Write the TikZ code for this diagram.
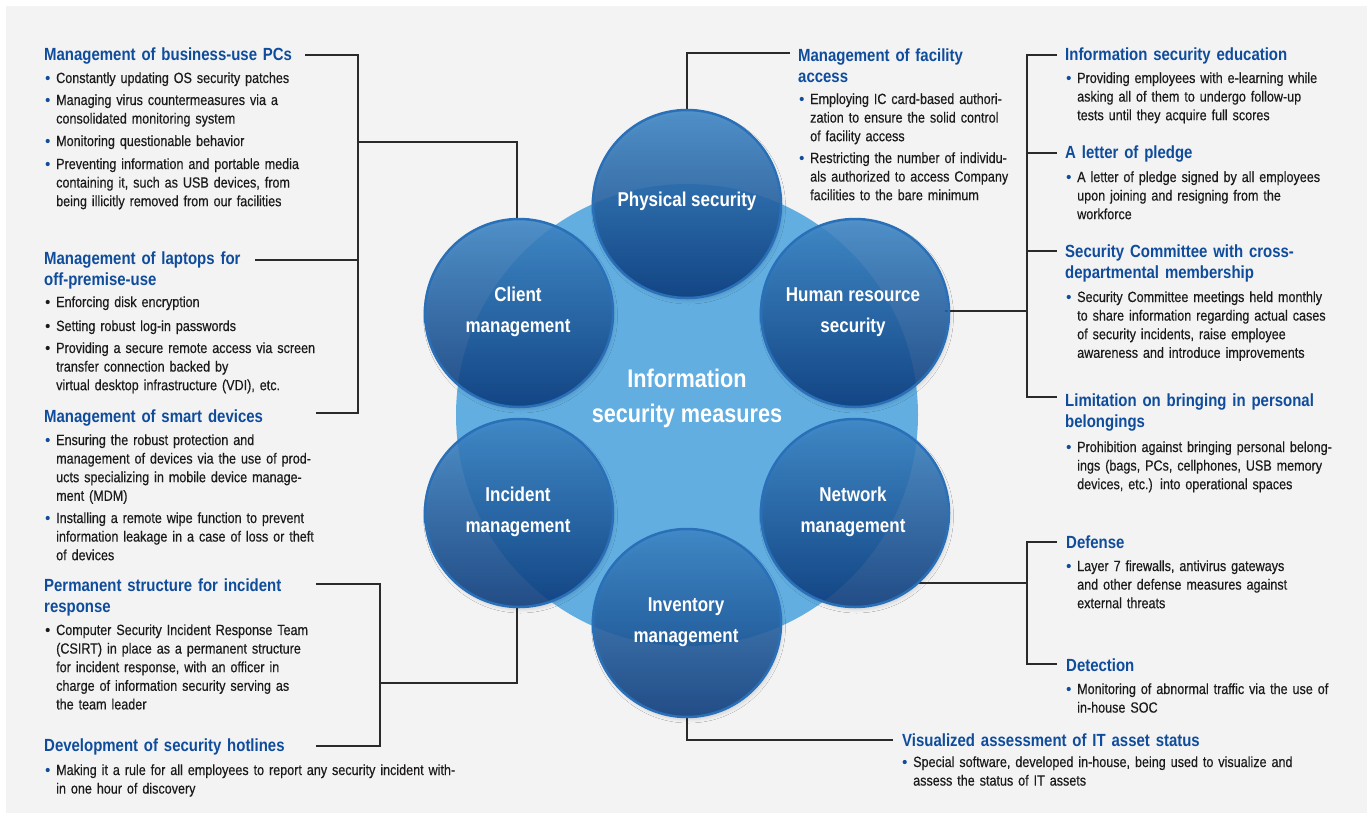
\documentclass[tikz,border=0pt]{standalone}
\usepackage{fontspec}
\setmainfont{Liberation Sans}[FakeStretch=0.85]
\newfontfamily\bodyfont{Liberation Sans}[FakeStretch=0.85, FakeBold=0.35]
\usetikzlibrary{shadows.blur}
\definecolor{hdc}{HTML}{0F4C9C}
\definecolor{bodyc}{HTML}{1C1A1A}
\definecolor{bgc}{HTML}{F3F3F3}
\definecolor{bigc}{HTML}{62AEE1}
\definecolor{linec}{HTML}{2A2A2A}
\definecolor{ctop}{HTML}{3D86C6}
\definecolor{cmid}{HTML}{0B59A7}
\definecolor{cbot}{HTML}{0A3A7C}
\definecolor{crim}{HTML}{2A70B8}
\definecolor{dotb}{HTML}{0F4C9C}
\definecolor{dotk}{HTML}{1A1A1A}
\tikzset{
  hd/.style={anchor=base west, inner sep=0pt, text width=420pt, align=left, text=hdc,
    font=\fontsize{17.6}{21}\selectfont\bfseries},
  bd/.style={anchor=base west, inner sep=0pt, text width=480pt, align=left, text=bodyc,
    font=\bodyfont\fontsize{14.8}{18.6}\selectfont},
  conn/.style={draw=linec, line width=1.2pt},
  circ/.style={circle, minimum size=188pt, inner sep=0pt, top color=ctop, middle color=cmid,
    bottom color=cbot, fill opacity=0.88, draw=crim, line width=2.5pt,
    blur shadow={shadow xshift=1.5pt, shadow yshift=-3pt, shadow blur radius=3pt, shadow opacity=14}},
  clab/.style={text=white, align=center, inner sep=0pt, font=\fontsize{20}{31}\selectfont\bfseries},
}
\newcommand\bitem[5]{% name, x, y, dot colour, text
  \fill[#4] (#2-8.3,#3-5) circle (2.1pt);
  \node[bd] (#1) at (#2,#3) {#5};}
\begin{document}
\begin{tikzpicture}[x=1pt,y=-1pt]
\useasboundingbox (0,0) rectangle (1370,817);
\fill[white] (0,0) rectangle (1370,817);
\fill[bgc] (6,6) rectangle (1367,813);
% big circle
\node[circle, fill=bigc, minimum size=462pt, inner sep=0pt] (core) at (687,415) {};
% connectors
\coordinate (lA) at (358,55);
\coordinate (lB) at (358,413);
\draw[conn] (305,55) -- (lA) -- (lB) -- (316,413);
\draw[conn] (255,260) -- (358,260);
\draw[conn] (358,142) -- (517,142) -- (517,220);
\draw[conn] (316,584) -- (380,584) -- (380,746) -- (316,746);
\draw[conn] (380,683) -- (517,683) -- (517,607);
\draw[conn] (687,110) -- (687,53) -- (790,53);
\draw[conn] (1057,55) -- (1027,55) -- (1027,397) -- (1057,397);
\draw[conn] (1027,153) -- (1057,153);
\draw[conn] (1027,251) -- (1057,251);
\draw[conn] (945,311) -- (1027,311);
\draw[conn] (1057,542) -- (1027,542) -- (1027,664) -- (1057,664);
\draw[conn] (918,583) -- (1027,583);
\draw[conn] (687,717) -- (687,740) -- (893,740);
% circles
\node[circ] (phys) at (687,204) {};
\node[circ] (client) at (519,313) {};
\node[circ] (hr) at (855,313) {};
\node[circ] (incid) at (519,513) {};
\node[circ] (netw) at (855,513) {};
\node[circ] (inv) at (687,623) {};
\node[clab] (physL) at (687,201) {Physical security};
\node[clab] (clientL) at (518,312) {Client\\management};
\node[clab] (hrL) at (853,312) {Human resource\\security};
\node[clab] (incidL) at (518,512) {Incident\\management};
\node[clab] (netwL) at (853,512) {Network\\management};
\node[clab] (invL) at (686,622) {Inventory\\management};
\node[text=white, align=center, inner sep=0pt, font=\fontsize{25.5}{35}\selectfont\bfseries] (coreL) at (687,398) {Information\\security measures};
% left column
\node[hd] (h1) at (44,60) {Management of business-use PCs};
\bitem{b11}{56}{83}{dotb}{Constantly updating OS security patches}
\bitem{b12}{56}{105}{dotb}{Managing virus countermeasures via a\\consolidated monitoring system}
\bitem{b13}{56}{146}{dotb}{Monitoring questionable behavior}
\bitem{b14}{56}{169}{dotb}{Preventing information and portable media\\containing it, such as USB devices, from\\being illicitly removed from our facilities}
\node[hd] (h2) at (44,264) {Management of laptops for\\off-premise-use};
\bitem{b21}{56}{307}{dotk}{Enforcing disk encryption}
\bitem{b22}{56}{331}{dotk}{Setting robust log-in passwords}
\bitem{b23}{56}{353}{dotk}{Providing a secure remote access via screen\\transfer connection backed by\\virtual desktop infrastructure (VDI), etc.}
\node[hd] (h3) at (44,422) {Management of smart devices};
\bitem{b31}{56}{445}{dotb}{Ensuring the robust protection and\\management of devices via the use of prod-\\ucts specializing in mobile device manage-\\ment (MDM)}
\bitem{b32}{56}{523}{dotb}{Installing a remote wipe function to prevent\\information leakage in a case of loss or theft\\of devices}
\node[hd] (h4) at (44,591) {Permanent structure for incident\\response};
\bitem{b41}{56}{635}{dotk}{Computer Security Incident Response Team\\(CSIRT) in place as a permanent structure\\for incident response, with an officer in\\charge of information security serving as\\the team leader}
\node[hd] (h5) at (44,751) {Development of security hotlines};
\bitem{b51}{56}{775}{dotb}{Making it a rule for all employees to report any security incident with-\\in one hour of discovery}
% facility
\node[hd] (h6) at (798,61) {Management of facility\\access};
\bitem{b61}{810}{104}{dotb}{Employing IC card-based authori-\\zation to ensure the solid control\\of facility access}
\bitem{b62}{810}{163}{dotb}{Restricting the number of individu-\\als authorized to access Company\\facilities to the bare minimum}
% right column
\node[hd] (h7) at (1065,60) {Information security education};
\bitem{b71}{1077}{83}{dotb}{Providing employees with e-learning while\\asking all of them to undergo follow-up\\tests until they acquire full scores}
\node[hd] (h8) at (1065,158) {A letter of pledge};
\bitem{b81}{1077}{182}{dotb}{A letter of pledge signed by all employees\\upon joining and resigning from the\\workforce}
\node[hd] (h9) at (1065,257) {Security Committee with cross-\\departmental membership};
\bitem{b91}{1077}{302}{dotb}{Security Committee meetings held monthly\\to share information regarding actual cases\\of security incidents, raise employee\\awareness and introduce improvements}
\node[hd] (h10) at (1065,406) {Limitation on bringing in personal\\belongings};
\bitem{b101}{1077}{452}{dotb}{Prohibition against bringing personal belong-\\ings (bags, PCs, cellphones, USB memory\\devices, etc.) into operational spaces}
\node[hd] (h11) at (1066,548) {Defense};
\bitem{b111}{1077}{571}{dotb}{Layer 7 firewalls, antivirus gateways\\and other defense measures against\\external threats}
\node[hd] (h12) at (1066,671) {Detection};
\bitem{b121}{1077}{694}{dotb}{Monitoring of abnormal traffic via the use of\\in-house SOC}
\node[hd] (h13) at (902,746) {Visualized assessment of IT asset status};
\bitem{b131}{913}{767}{dotb}{Special software, developed in-house, being used to visualize and\\assess the status of IT assets}
\end{tikzpicture}
\end{document}
